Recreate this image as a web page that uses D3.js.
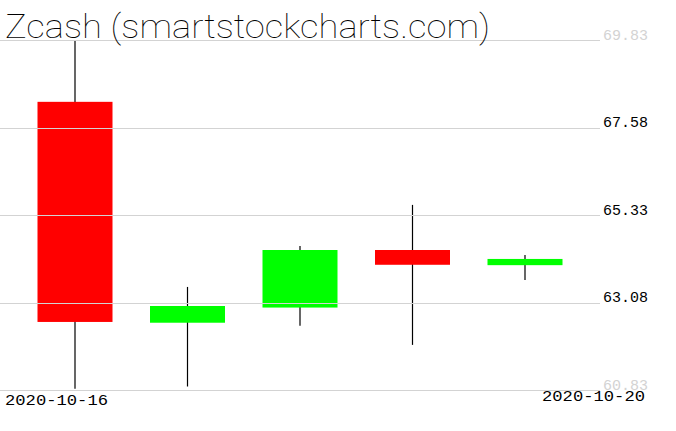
<!DOCTYPE html>
<html>
<head>
<meta charset="utf-8">
<script src="https://cdn.jsdelivr.net/npm/d3@7"></script>
<style>
  body { margin: 0; background: #fff; }
  svg { display: block; }
</style>
</head>
<body>
<div id="chart"></div>
<script>
// Chart data
var dates  = ["2020-10-16", "2020-10-17", "2020-10-18", "2020-10-19", "2020-10-20"];
var opens  = [68.24, 62.56, 62.95, 64.43, 64.04];
var highs  = [69.83, 63.48, 64.53, 65.59, 64.30];
var lows   = [60.86, 60.92, 62.48, 61.99, 63.66];
var closes = [62.58, 62.99, 64.43, 64.05, 64.20];
var yTicks = [69.83, 67.58, 65.33, 63.08, 60.83];

var svgWidth = 676;
var svgHeight = 431;

var svg = d3.select("#chart")
            .append("svg")
            .attr("width", svgWidth)
            .attr("height", svgHeight);

var candles = dates.map(function(d, i){
    return {date: d, open: opens[i], high: highs[i], low: lows[i], close: closes[i]};
});

// Scales
var xScale = d3.scaleBand()
    .domain(dates)
    .range([18.75, 581.25])
    .paddingInner(1 / 3)
    .paddingOuter(1 / 6);

var yScale = d3.scaleLinear()
    .domain([60.83, 69.83])
    .range([390, 40]);

// Wicks
svg.append("g").selectAll("line")
    .data(candles)
    .enter()
    .append("line")
    .attr("x1", d => xScale(d.date) + xScale.bandwidth() / 2)
    .attr("x2", d => xScale(d.date) + xScale.bandwidth() / 2)
    .attr("y1", d => yScale(d.high))
    .attr("y2", d => yScale(d.low))
    .attr("stroke", "#000")
    .attr("stroke-width", 1.2);

// Bodies
svg.append("g").selectAll("rect")
    .data(candles)
    .enter()
    .append("rect")
    .attr("x", d => xScale(d.date))
    .attr("width", xScale.bandwidth())
    .attr("y", d => yScale(Math.max(d.open, d.close)))
    .attr("height", d => Math.abs(yScale(d.open) - yScale(d.close)))
    .attr("fill", d => d.close >= d.open ? "#00ff00" : "#ff0000");

// Right axis with gridlines
var yAxis = d3.axisRight(yScale)
    .tickValues(yTicks)
    .tickSize(600)
    .tickPadding(3)
    .tickFormat(d3.format(".2f"));

var axisG = svg.append("g")
    .call(yAxis);

axisG.select(".domain").remove();
axisG.selectAll(".tick line")
    .attr("stroke", "#d3d3d3")
    .attr("shape-rendering", "crispEdges");
axisG.selectAll(".tick text")
    .attr("dy", "0")
    .attr("y", -1)
    .attr("font-family", "'Liberation Mono', monospace")
    .attr("font-size", 14)
    .attr("textLength", 45)
    .attr("lengthAdjust", "spacingAndGlyphs")
    .attr("fill", (d, i) => (i === 0 || i === yTicks.length - 1) ? "#d3d3d3" : "#000");

// Date labels (first and last)
var labelFont = "'Liberation Mono', monospace";

svg.append("text")
    .attr("x", 5)
    .attr("y", 405)
    .attr("font-family", labelFont)
    .attr("font-size", 14)
    .attr("textLength", 103)
    .attr("lengthAdjust", "spacingAndGlyphs")
    .text(dates[0]);

svg.append("text")
    .attr("x", 542)
    .attr("y", 401)
    .attr("font-family", labelFont)
    .attr("font-size", 14)
    .attr("textLength", 103)
    .attr("lengthAdjust", "spacingAndGlyphs")
    .text(dates[dates.length - 1]);

// Title
svg.append("text")
    .attr("x", 5)
    .attr("y", 38)
    .attr("font-family", "Roboto, 'DejaVu Sans', sans-serif")
    .attr("font-weight", 100)
    .attr("font-size", 33)
    .attr("textLength", 485)
    .attr("lengthAdjust", "spacingAndGlyphs")
    .text("Zcash (smartstockcharts.com)");
</script>
</body>
</html>
